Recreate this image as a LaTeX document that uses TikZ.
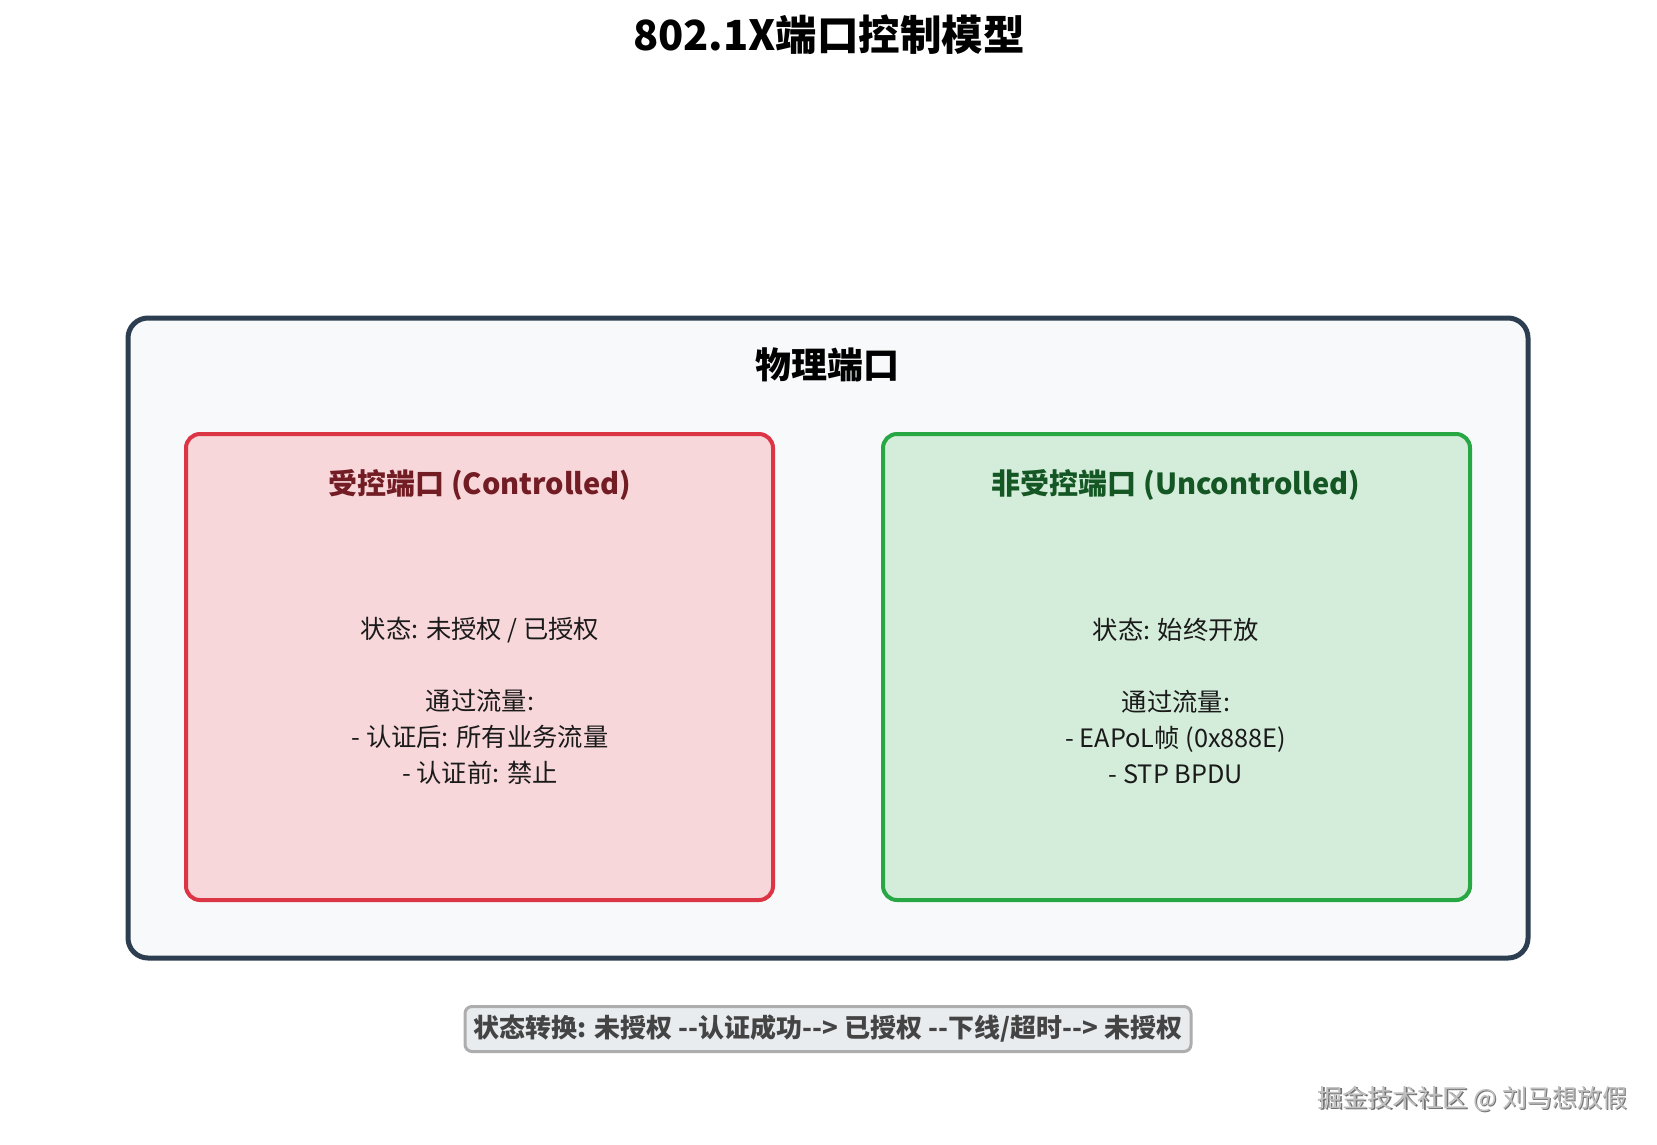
\documentclass[tikz,border=0pt]{standalone}
\usepackage{fontspec}
\setmainfont{Noto Sans CJK SC}
\newfontfamily\notefont{Noto Sans CJK SC}
\definecolor{outerbd}{HTML}{2C3E50}
\definecolor{outerbg}{HTML}{F8F9FA}
\definecolor{redbd}{HTML}{DC3545}
\definecolor{redbg}{HTML}{F8D7DA}
\definecolor{redtx}{HTML}{721C24}
\definecolor{greenbd}{HTML}{28A745}
\definecolor{greenbg}{HTML}{D4EDDA}
\definecolor{greentx}{HTML}{155724}
\definecolor{notebg}{HTML}{E9ECEF}
\definecolor{notebd}{HTML}{ADADAD}
\definecolor{notetx}{HTML}{444444}
\definecolor{bodytx}{HTML}{1A1A1A}
\begin{document}
\begin{tikzpicture}[x=1pt,y=-1pt,
  portbox/.style={rounded corners=14pt, line width=4pt},
  boxtitle/.style={font=\bfseries\fontsize{29}{34}\selectfont, anchor=center},
  bodytext/.style={font=\fontsize{25.3}{36}\selectfont, align=center, text=bodytx, anchor=center},
]
\useasboundingbox (0,0) rectangle (1657,1144);
\fill[white] (0,0) rectangle (1657,1144);
% title
\node[font=\bfseries\fontsize{41.5}{48}\selectfont] (title) at (829,35) {802.1X端口控制模型};
% outer box
\draw[line width=5pt, draw=outerbd, fill=outerbg, rounded corners=20pt] (128,318) rectangle (1528,958);
\node[font=\bfseries\fontsize{36}{42}\selectfont] (phys) at (827,365) {物理端口};
% controlled
\draw[portbox, draw=redbd, fill=redbg] (186,434) rectangle (773,900);
\node[boxtitle, text=redtx] (ctitle) at (480,485) {受控端口 (Controlled)};
\node[bodytext] (cbody) at (480,701) {状态: 未授权 / 已授权\\[36pt]通过流量:\\- 认证后: 所有业务流量\\- 认证前: 禁止};
% uncontrolled
\draw[portbox, draw=greenbd, fill=greenbg] (883,434) rectangle (1470,900);
\node[boxtitle, text=greentx] (utitle) at (1176,485) {非受控端口 (Uncontrolled)};
\node[bodytext] (ubody) at (1176,701) {状态: 始终开放\\[36pt]通过流量:\\- EAPoL帧 (0x888E)\\- STP BPDU};
% state note
\node[draw=notebd, line width=3pt, fill=notebg, rounded corners=7pt, minimum width=726pt, minimum height=45pt, inner sep=0pt, text=notetx, font=\notefont\bfseries\fontsize{26}{30}\selectfont] (note) at (828,1029) {状态转换: 未授权 --认证成功--> 已授权 --下线/超时--> 未授权};
% watermark
\node[text=black!55, font=\fontsize{25}{30}\selectfont, anchor=east] (wmshadow) at (1632.5,1100.5) {掘金技术社区 @ 刘马想放假};
\node[text=black!25, font=\fontsize{25}{30}\selectfont, anchor=east] (wm) at (1631,1099) {掘金技术社区 @ 刘马想放假};
\end{tikzpicture}
\end{document}
